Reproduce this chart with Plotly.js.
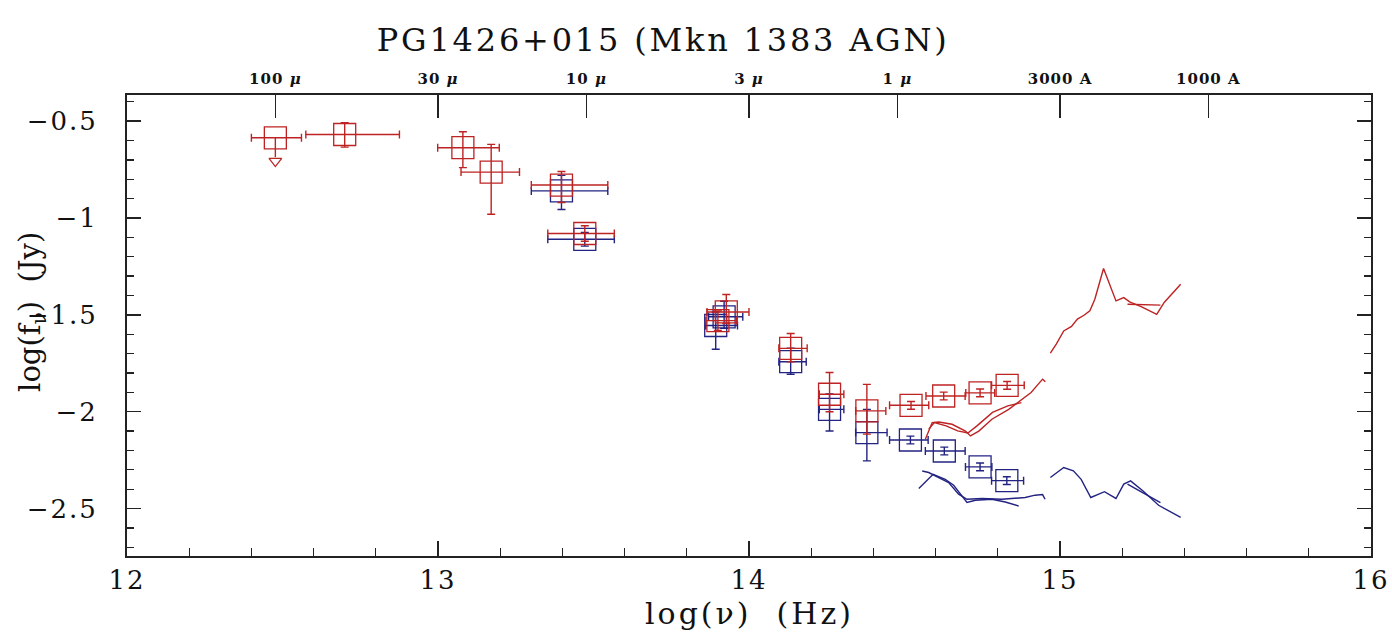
<!DOCTYPE html>
<html>
<head>
<meta charset="utf-8">
<script src="https://cdn.plot.ly/plotly-3.0.1.min.js"></script>
<style>
html,body{margin:0;padding:0;background:#fff;}
#chart{width:1392px;height:632px;}
#chart .gtitle{letter-spacing:2.8px;}
#chart .xtick text, #chart .ytick text{letter-spacing:2px;}
#chart .x2tick text{letter-spacing:1px;}
#chart g.annotation[data-index="0"] text{letter-spacing:3px;}
</style>
</head>
<body>
<div id="chart"></div>
<script>
// ---------- photometric points (log nu [Hz], log f_nu [Jy]) ----------
const redNu      = [12.700, 13.080, 13.171, 13.397, 13.472, 13.900, 13.927, 14.134, 14.259, 14.379, 14.521, 14.626, 14.743, 14.830];
const redLogF    = [-0.569, -0.637, -0.763, -0.830, -1.080, -1.530, -1.485, -1.673, -1.910, -1.996, -1.967, -1.919, -1.903, -1.864];
const redNuLo    = [0.125, 0.081, 0.097, 0.097, 0.119, 0.039, 0.062, 0.038, 0.033, 0.036, 0.069, 0.057, 0.046, 0.050];
const redNuHi    = [0.176, 0.117, 0.091, 0.149, 0.095, 0.060, 0.073, 0.053, 0.046, 0.061, 0.057, 0.069, 0.047, 0.055];
const redFLo     = [0.065, 0.103, 0.218, 0.090, 0.040, 0.050, 0.060, 0.070, 0.090, 0.120, 0.020, 0.020, 0.020, 0.020];
const redFHi     = [0.061, 0.082, 0.143, 0.070, 0.040, 0.050, 0.090, 0.077, 0.112, 0.137, 0.020, 0.020, 0.020, 0.020];

const blueNu     = [13.397, 13.472, 13.893, 13.920, 14.134, 14.259, 14.379, 14.519, 14.628, 14.743, 14.829];
const blueLogF   = [-0.860, -1.110, -1.555, -1.510, -1.742, -1.988, -2.108, -2.146, -2.203, -2.285, -2.356];
const blueNuLo   = [0.097, 0.119, 0.032, 0.050, 0.038, 0.033, 0.036, 0.067, 0.061, 0.047, 0.049];
const blueNuHi   = [0.149, 0.095, 0.070, 0.060, 0.050, 0.046, 0.065, 0.057, 0.067, 0.038, 0.054];
const blueFLo    = [0.096, 0.035, 0.123, 0.060, 0.065, 0.112, 0.146, 0.020, 0.020, 0.020, 0.020];
const blueFHi    = [0.080, 0.035, 0.070, 0.080, 0.070, 0.080, 0.120, 0.020, 0.020, 0.020, 0.020];

// upper limit (100 micron)
const limNu      = [12.477];
const limLogF    = [-0.586];
const limNuLo    = [0.077];
const limNuHi    = [0.084];
const limArrow   = [0.100];
const limTipLogF = [-0.706];

// ---------- spectra ----------
const redOptA_nu = [14.567, 14.589, 14.610, 14.653, 14.696, 14.712, 14.739, 14.781, 14.835, 14.872, 14.907, 14.944, 14.953];
const redOptA_f  = [-2.142, -2.056, -2.053, -2.065, -2.100, -2.125, -2.100, -2.039, -1.988, -1.945, -1.901, -1.832, -1.846];
const redOptB_nu = [14.578, 14.596, 14.634, 14.671, 14.704, 14.733, 14.783, 14.832, 14.876];
const redOptB_f  = [-2.090, -2.056, -2.073, -2.099, -2.110, -2.073, -2.004, -1.970, -1.953];
const redUV_nu   = [14.969, 14.988, 15.012, 15.037, 15.056, 15.077, 15.096, 15.112, 15.140, 15.161, 15.180, 15.205, 15.224, 15.261, 15.311, 15.335, 15.388];
const redUV_f    = [-1.698, -1.651, -1.583, -1.560, -1.522, -1.502, -1.479, -1.419, -1.261, -1.350, -1.428, -1.411, -1.433, -1.457, -1.497, -1.436, -1.342];
const redUV2_nu  = [15.217, 15.323];
const redUV2_f   = [-1.445, -1.450];

const blueOpt1_nu = [14.546, 14.592, 14.631, 14.658, 14.701, 14.728, 14.781, 14.824, 14.867];
const blueOpt1_f  = [-2.397, -2.323, -2.349, -2.380, -2.469, -2.457, -2.452, -2.466, -2.487];
const blueOpt2_nu = [14.557, 14.578, 14.610, 14.642, 14.674, 14.701, 14.749, 14.813, 14.888, 14.920, 14.944, 14.952];
const blueOpt2_f  = [-2.306, -2.314, -2.340, -2.366, -2.426, -2.452, -2.448, -2.452, -2.443, -2.431, -2.428, -2.452];
const blueUV_nu   = [14.969, 15.012, 15.043, 15.068, 15.099, 15.143, 15.180, 15.205, 15.227, 15.267, 15.317, 15.388];
const blueUV_f    = [-2.340, -2.288, -2.305, -2.349, -2.443, -2.413, -2.448, -2.374, -2.357, -2.409, -2.483, -2.546];
const blueUV2_nu  = [15.217, 15.323];
const blueUV2_f   = [-2.374, -2.469];

// ---------- top wavelength axis ----------
const waveTickNu  = [12.477, 13.0, 13.477, 14.0, 14.477, 15.0, 15.477];
const waveTickTxt = ['100 <i>\u03BC</i>', '30 <i>\u03BC</i>', '10 <i>\u03BC</i>', '3 <i>\u03BC</i>', '1 <i>\u03BC</i>', '3000 A', '1000 A'];

const RED = 'rgb(190,35,35)';
const BLUE = 'rgb(35,35,130)';
const SERIF = '"DejaVu Serif", "Liberation Serif", serif';

function pts(x, y, xl, xh, yl, yh, color) {
  return {
    type: 'scatter', mode: 'markers', x: x, y: y,
    marker: {symbol: 'square-open', size: 22, color: color, line: {width: 1.3, color: color}},
    error_x: {type: 'data', symmetric: false, array: xh, arrayminus: xl, color: color, thickness: 1.4, width: 4},
    error_y: {type: 'data', symmetric: false, array: yh, arrayminus: yl, color: color, thickness: 1.4, width: 4},
    hoverinfo: 'x+y', showlegend: false
  };
}
function line(x, y, color) {
  return {type: 'scatter', mode: 'lines', x: x, y: y, line: {color: color, width: 1.4}, hoverinfo: 'x+y', showlegend: false};
}

const traces = [
  line(redOptA_nu, redOptA_f, RED),
  line(redOptB_nu, redOptB_f, RED),
  line(redUV_nu, redUV_f, RED),
  line(redUV2_nu, redUV2_f, RED),
  line(blueOpt1_nu, blueOpt1_f, BLUE),
  line(blueOpt2_nu, blueOpt2_f, BLUE),
  line(blueUV_nu, blueUV_f, BLUE),
  line(blueUV2_nu, blueUV2_f, BLUE),
  pts(blueNu, blueLogF, blueNuLo, blueNuHi, blueFLo, blueFHi, BLUE),
  pts(redNu, redLogF, redNuLo, redNuHi, redFLo, redFHi, RED),
  {
    type: 'scatter', mode: 'markers', x: limNu, y: limLogF,
    marker: {symbol: 'square-open', size: 22, color: RED, line: {width: 1.3, color: RED}},
    error_x: {type: 'data', symmetric: false, array: limNuHi, arrayminus: limNuLo, color: RED, thickness: 1.4, width: 4},
    error_y: {type: 'data', symmetric: false, array: [0], arrayminus: limArrow, color: RED, thickness: 1.4, width: 0},
    hoverinfo: 'x+y', showlegend: false
  },
  {
    type: 'scatter', mode: 'markers', x: limNu, y: limTipLogF,
    marker: {symbol: 'triangle-down-open', size: 11, color: RED, line: {width: 1.3, color: RED}},
    hoverinfo: 'x+y', showlegend: false
  },
  // carrier for the top wavelength axis
  {type: 'scatter', mode: 'lines', x: [waveTickNu[0], waveTickNu[waveTickNu.length - 1]], y: [null, null],
   xaxis: 'x2', yaxis: 'y', hoverinfo: 'skip', showlegend: false}
];

const layout = {
  width: 1392, height: 632,
  margin: {l: 127, r: 21, t: 95, b: 76, pad: 0},
  paper_bgcolor: '#fff', plot_bgcolor: '#fff',
  font: {family: SERIF, color: '#000'},
  title: {text: 'PG1426+015 (Mkn 1383 AGN)', font: {family: SERIF, size: 32, color: '#111'},
          x: 0.431, xref: 'paper', xanchor: 'center', y: 0.937, yref: 'container', yanchor: 'middle'},
  xaxis: {
    range: [12, 16], tickmode: 'linear', tick0: 12, dtick: 1,
    ticks: 'inside', ticklen: 15, tickwidth: 1.5, tickcolor: '#222',
    minor: {dtick: 0.2, ticks: 'inside', ticklen: 8, tickwidth: 1.3, tickcolor: '#222'},
    showline: true, linecolor: '#222', linewidth: 2, mirror: true,
    showgrid: false, zeroline: false,
    tickfont: {family: SERIF, size: 26, color: '#111'}
  },
  xaxis2: {
    overlaying: 'x', side: 'top', range: [12, 16], matches: 'x',
    tickmode: 'array', tickvals: waveTickNu, ticktext: waveTickTxt,
    ticks: 'inside', ticklen: 23, tickwidth: 1.5, tickcolor: '#222',
    showline: false, showgrid: false, zeroline: false, ticklabelstandoff: 7,
    tickfont: {family: SERIF, size: 15, color: '#111', weight: 'bold'}
  },
  yaxis: {
    range: [-2.745, -0.365], tickmode: 'linear', tick0: 0, dtick: 0.5,
    ticks: 'inside', ticklen: 14, tickwidth: 1.5, tickcolor: '#222',
    minor: {dtick: 0.1, ticks: 'inside', ticklen: 7, tickwidth: 1.3, tickcolor: '#222'},
    showline: true, linecolor: '#222', linewidth: 2, mirror: 'ticks',
    showgrid: false, zeroline: false, ticklabelstandoff: 22,
    tickfont: {family: SERIF, size: 26, color: '#111'}
  },
  annotations: [
    {text: 'log(\u03BD)  (Hz)', xref: 'paper', yref: 'paper', x: 0.5, y: -0.124,
     xanchor: 'center', yanchor: 'middle', showarrow: false, font: {family: SERIF, size: 30, color: '#111'}},
    {text: 'log(f<sub>\u03BD</sub>)  (Jy)', xref: 'paper', yref: 'paper', x: -0.077, y: 0.53,
     xanchor: 'center', yanchor: 'middle', textangle: -90, showarrow: false, font: {family: SERIF, size: 29, color: '#111'}}
  ]
};

Plotly.newPlot('chart', traces, layout, {staticPlot: true, displayModeBar: false});
</script>
</body>
</html>
